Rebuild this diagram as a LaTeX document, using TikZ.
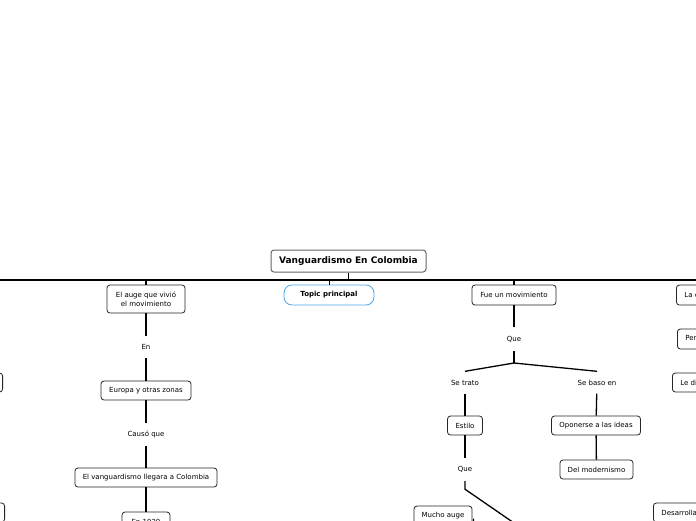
\documentclass[tikz,border=0pt]{standalone}
\usepackage{fontspec}
\setmainfont{DejaVu Sans}
\definecolor{topicblue}{HTML}{4AA8E8}
\begin{document}
\begin{tikzpicture}[x=1pt,y=-1pt,
  box/.style={draw=black!85, rounded corners=3pt, line width=0.8pt,
    font=\fontsize{7}{8.5}\selectfont, inner sep=0pt, minimum height=19pt, align=center},
  cutbox/.style={box, anchor=west, inner xsep=8pt, minimum height=19pt},
  lbl/.style={font=\fontsize{7}{8.5}\selectfont, inner sep=0pt, minimum height=22pt},
  conn/.style={line width=1.3pt}]
\useasboundingbox (0,0) rectangle (696,520);
\clip (0,0) rectangle (696,520);
\fill[white] (0,0) rectangle (696,520);

% main line
\coordinate (L) at (0,280);
\coordinate (R) at (696,280);
\draw[line width=1.8pt] (L) -- (R);

% root
\node[box, draw=black!60, line width=1pt, minimum width=155pt, minimum height=22pt,
  font=\bfseries\fontsize{9}{10}\selectfont] (root) at (348.5,261) {Vanguardismo En Colombia};
\draw[conn] (root.south) -- (root.south |- L);

% topic
\node[box, draw=topicblue, rounded corners=8pt, minimum width=90pt, minimum height=20pt,
  font=\bfseries\fontsize{7}{8.5}\selectfont] (topic) at (329,295) {Topic principal};
\draw[line width=0.8pt] (topic.north) -- (topic.north |- L);

% left branch
\node[box, minimum width=78pt, minimum height=28pt] (auge) at (146,299) {El auge que vivió\\el movimiento};
\draw[conn] (auge.north) -- (auge.north |- L);
\node[lbl] (en) at (146,347) {En};
\draw[conn] (auge) -- (en);
\node[box, minimum width=90pt] (europa) at (146,390.5) {Europa y otras zonas};
\draw[conn] (en) -- (europa);
\node[lbl] (causo) at (146,434.5) {Causó que};
\draw[conn] (europa) -- (causo);
\node[box, minimum width=142pt] (llegara) at (146,477.5) {El vanguardismo llegara a Colombia};
\draw[conn] (causo) -- (llegara);
\node[box, minimum width=48pt] (en1920) at (146,521.5) {En 1920};
\draw[conn] (llegara) -- (en1920);

% middle branch
\node[box, minimum width=84pt, minimum height=20pt] (fue) at (514,295) {Fue un movimiento};
\draw[conn] (fue.north) -- (fue.north |- L);
\node[lbl, minimum height=24pt] (que) at (514,339) {Que};
\draw[conn] (fue) -- (que);
\coordinate (j) at (514,363);
\draw[conn] (que) -- (j);
\node[lbl] (setrato) at (465,382.5) {Se trato};
\node[lbl] (sebaso) at (597,382.5) {Se baso en};
\draw[conn] (j) -- (setrato.north);
\draw[conn] (j) -- (sebaso.north);
\node[box, minimum width=35pt] (estilo) at (465,425.5) {Estilo};
\draw[conn] (setrato) -- (estilo);
\node[lbl, minimum height=23pt] (que2) at (465,469.5) {Que};
\draw[conn] (estilo) -- (que2);
\coordinate (qend) at (530,534);
\draw[conn] (que2.south) -- ++(0,8) -- (qend);
\node[box, minimum width=58pt] (mucho) at (443,515.5) {Mucho auge};
\coordinate (mend) at (473.5,530);
\draw[conn] ([xshift=1pt,yshift=-3pt]mucho.east) -- (mend);

\node[box, minimum width=89pt] (oponerse) at (596,425.5) {Oponerse a las ideas};
\draw[conn] (sebaso) -- (oponerse);
\node[box, minimum width=73pt] (moder) at (596.5,469.5) {Del modernismo};
\draw[conn] (oponerse) -- (moder);

% right, cut-off boxes
\node[cutbox, minimum height=20pt] (lac) at (676,295) {La corriente};
\node[cutbox, minimum height=20pt] (per) at (677,339) {Personajes};
\node[cutbox] (ledi) at (672,382.5) {Le dio};
\node[cutbox] (desa) at (653,512.5) {Desarrollaron};

% left, cut-off boxes
\node[box, anchor=east, minimum width=80pt] (left1) at (3,382.5) {};
\node[box, anchor=east, minimum width=80pt] (left2) at (5,512.5) {};
\end{tikzpicture}
\end{document}
